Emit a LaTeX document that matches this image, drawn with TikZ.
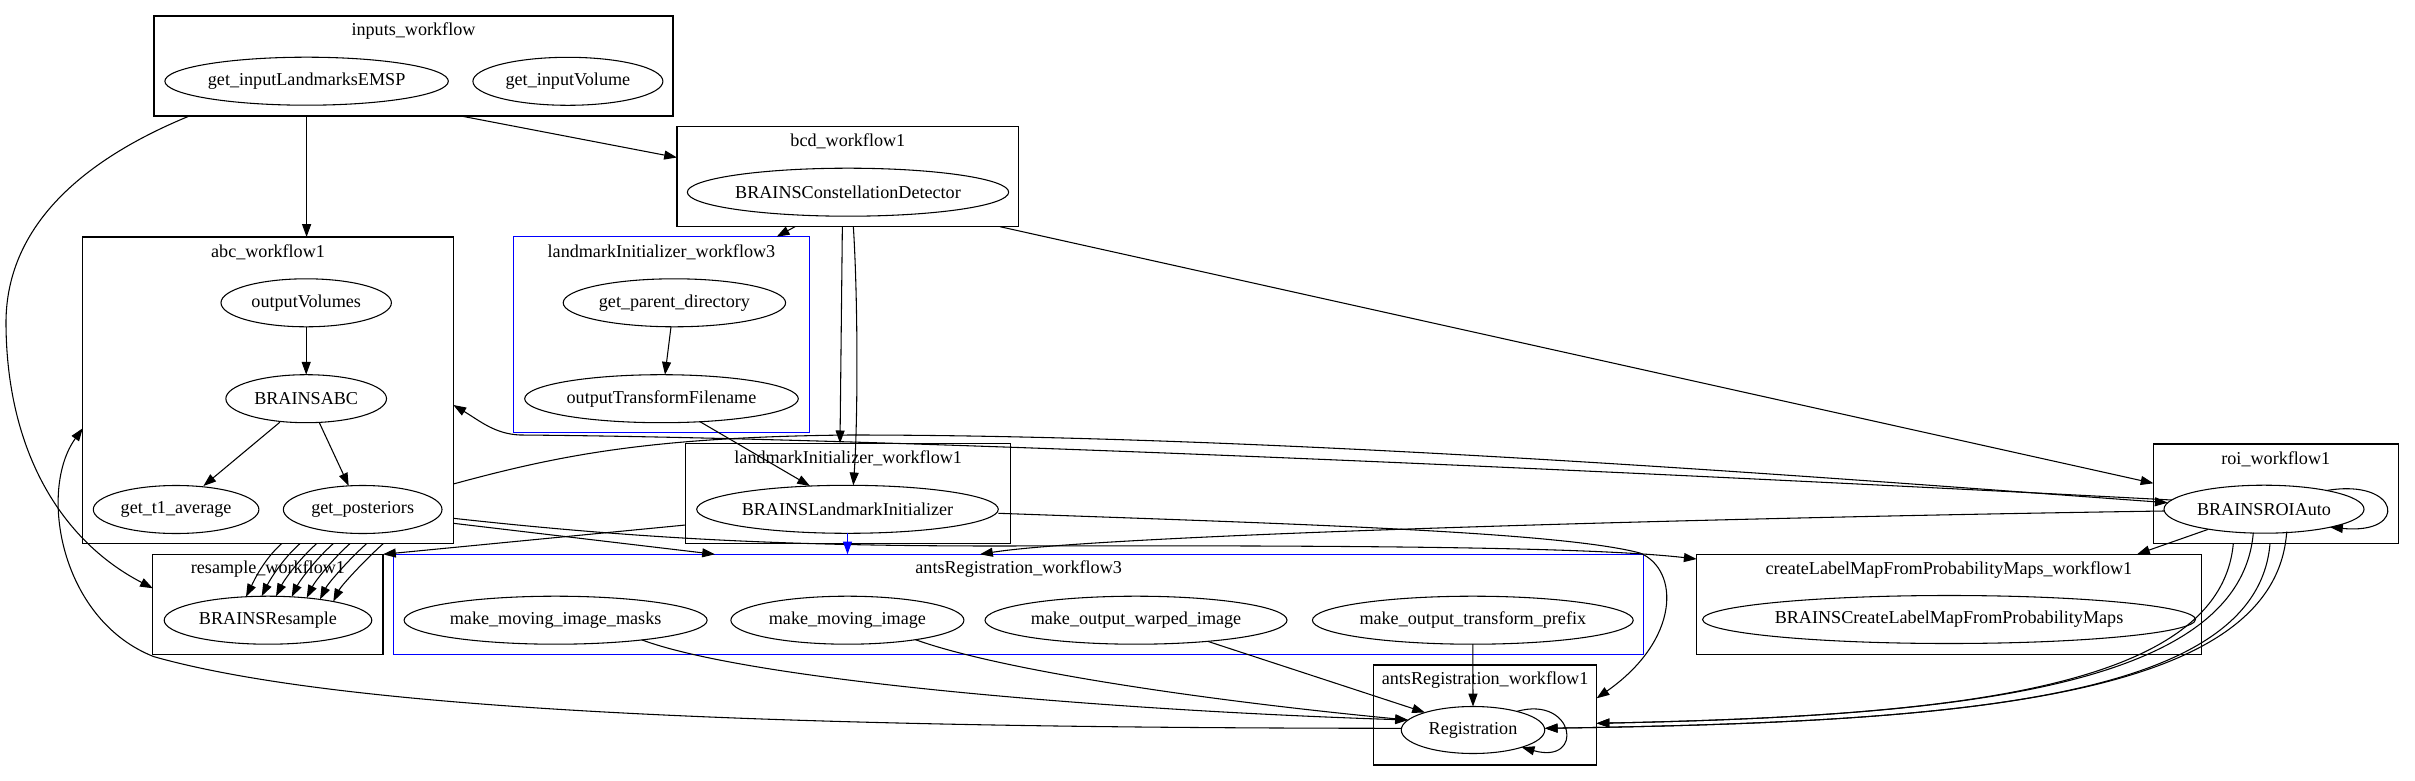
\documentclass[tikz,border=0pt]{standalone}
\usepackage{fontspec}
\setmainfont{Liberation Serif}
\usetikzlibrary{shapes.geometric,arrows.meta,calc}
\definecolor{gvblue}{RGB}{0,0,255}
\begin{document}
\begin{tikzpicture}[x=0.75pt,y=-0.75pt,
  every node/.style={font=\fontsize{13.6pt}{16pt}\selectfont},
  ell/.style={ellipse,draw,line width=0.8pt,inner sep=0pt,outer sep=0pt,minimum height=36pt},
  clus/.style={rectangle,draw,line width=0.8pt,inner sep=0pt,outer sep=0pt,minimum height=75pt},
  bclus/.style={clus,draw=gvblue},
  lab/.style={inner sep=0pt},
  conn/.style={draw,line width=0.8pt,-{Triangle[length=9.6pt,width=6.75pt]}},
]
\useasboundingbox[fill=white] (0,0) rectangle (2415,781);

% clusters
\node[clus,minimum width=389.25pt] (inputs) at (413.5,66) {};
\node[lab] (inputsL) at ($(inputs.north)+(0,15)$) {inputs\_workflow};
\node[clus,minimum width=256.3pt] (bcd) at (847.85,176.7) {};
\node[lab] (bcdL) at ($(bcd.north)+(0,15)$) {bcd\_workflow1};
\node[clus,minimum width=277.9pt,minimum height=229.9pt] (abc) at (268.05,390.25) {};
\node[lab] (abcL) at ($(abc.north)+(0,15.5)$) {abc\_workflow1};
\node[bclus,minimum width=221.9pt,minimum height=147pt] (lwthree) at (661.45,334.7) {};
\node[lab] (lwthreeL) at ($(lwthree.north)+(0,15.5)$) {landmarkInitializer\_workflow3};
\node[clus,minimum width=243.9pt,minimum height=75.4pt] (lwone) at (848.2,493.55) {};
\node[lab] (lwoneL) at ($(lwone.north)+(0,15)$) {landmarkInitializer\_workflow1};
\node[clus,minimum width=172.6pt,minimum height=75.3pt] (resample) at (267.95,604.5) {};
\node[lab] (resampleL) at ($(resample.north)+(0,15)$) {resample\_workflow1};
\node[bclus,minimum width=937.6pt,minimum height=75.15pt] (antsthree) at (1018.65,604.4) {};
\node[lab] (antsthreeL) at ($(antsthree.north)+(0,15)$) {antsRegistration\_workflow3};
\node[clus,minimum width=378.4pt] (clm) at (1948.95,604.3) {};
\node[lab] (clmL) at ($(clm.north)+(0,15.5)$) {createLabelMapFromProbabilityMaps\_workflow1};
\node[clus,minimum width=183.4pt,minimum height=74.6pt] (roi) at (2275.75,493.75) {};
\node[lab] (roiL) at ($(roi.north)+(0,15)$) {roi\_workflow1};
\node[clus,minimum width=167.3pt] (antsone) at (1485.05,715) {};
\node[lab] (antsoneL) at ($(antsone.north)+(0,15)$) {antsRegistration\_workflow1};

% nodes
\node[ell,minimum width=212.6pt] (getland) at (306.6,81.2) {get\_inputLandmarksEMSP};
\node[ell,minimum width=142.5pt] (getvol) at (567.9,81.3) {get\_inputVolume};
\node[ell,minimum width=241pt] (bcdnode) at (848,192.2) {BRAINSConstellationDetector};
\node[ell,minimum width=127.8pt] (outvol) at (306.2,302.8) {outputVolumes};
\node[ell,minimum width=120.5pt] (babc) at (306.2,398.7) {BRAINSABC};
\node[ell,minimum width=124.2pt] (tone) at (176.1,509.5) {get\_t1\_average};
\node[ell,minimum width=119pt] (post) at (362.7,509.5) {get\_posteriors};
\node[ell,minimum width=166.8pt] (parent) at (674.4,302.8) {get\_parent\_directory};
\node[ell,minimum width=205.2pt] (otf) at (661.5,398.7) {outputTransformFilename};
\node[ell,minimum width=226.2pt] (bli) at (847.5,509.3) {BRAINSLandmarkInitializer};
\node[ell,minimum width=155.7pt] (bres) at (268,620.2) {BRAINSResample};
\node[ell,minimum width=227.3pt] (masks) at (555.6,620.2) {make\_moving\_image\_masks};
\node[ell,minimum width=174.8pt] (moving) at (847.4,620.2) {make\_moving\_image};
\node[ell,minimum width=226.5pt] (warped) at (1136,620.2) {make\_output\_warped\_image};
\node[ell,minimum width=240.6pt] (prefix) at (1472.8,620.2) {make\_output\_transform\_prefix};
\node[ell,minimum width=361.2pt] (bclm) at (1949,619.5) {BRAINSCreateLabelMapFromProbabilityMaps};
\node[ell,minimum width=150pt] (broi) at (2264,509.2) {BRAINSROIAuto};
\node[ell,minimum width=107.6pt,minimum height=35.25pt] (reg) at (1473,730) {Registration};

% edges
\draw[conn] (getland.south |- inputs.south) -- (getland.south |- abc.north);
\draw[conn] ($(inputs.south)+(47.4,0)$) -- ($(bcd.west)+(0,-19.2)$);
\draw[conn] ($(inputs.south)+(-224.1,0)$) .. controls (70,165) and (5,235) .. (6,325)
  .. controls (7,450) and (60,540) .. ($(resample.west)+(0,-16.2)$);
\draw[conn] ($(bcd.south)+(-52.85,0)$) -- ($(lwthree.north)+(115.25,0)$);
\draw[conn] ($(bcd.south)+(-5.5,0)$) -- ($(lwone.north)+(-8.2,0)$);
\draw[conn] ($(bcd.south)+(5.5,0)$) .. controls (858,300) and (858,420) .. ($(bli.north)+(5.8,0)$);
\draw[conn] ($(bcd.south)+(152.15,0)$) -- ($(roi.west)+(0,-10.45)$);
\draw[conn] ($(parent.south)+(-3.4,0)$) -- ($(otf.north)+(3.5,0)$);
\draw[conn] ($(otf.south)+(38.5,-1)$) -- ($(bli.north)+(-37.5,0.7)$);
\draw[conn] (outvol) -- (babc);
\draw[conn] ($(babc.south)+(-26.3,-0.5)$) -- ($(tone.north)+(27.3,0.5)$);
\draw[conn] ($(babc.south)+(13,-0.3)$) -- ($(post.north)+(-14,0.3)$);

% roi <-> abc
\draw[conn] ($(broi.center)+(-92.4,-9.2)$) .. controls (1600,470) and (900,438) .. (520,435)
  .. controls (495,434) and (480,421) .. ($(abc.east)+(0,14.75)$);
\draw[conn] ($(abc.east)+(0,93.75)$) .. controls (560,455) and (650,437) .. (850,435)
  .. controls (1300,435) and (1880,482) .. ($(broi.center)+(-96.3,-6.5)$);
% abc -> createLabelMap, abc -> antsRegistration3
\draw[conn] ($(abc.east)+(0,128.05)$) .. controls (650,540) and (800,546) .. (1000,546)
  .. controls (1400,545) and (1600,548) .. ($(clm.west)+(0,-45.3)$);
\draw[conn] ($(abc.east)+(0,133.05)$) -- ($(antsthree.north)+(-303.65,0)$);
% landmark initializer
\draw[conn] ($(lwone.west)+(0,31.45)$) -- (resample.north east);
\draw[conn,draw=gvblue,fill=gvblue] (bli.south) -- (bli.south |- antsthree.north);
\draw[conn] ($(bli.east)+(0,4)$) .. controls (1300,524) and (1560,532) .. (1640,553)
  .. controls (1680,570) and (1680,640) .. ($(antsone.east)+(0,-16.7)$);
% roi outputs
\draw[conn] ($(broi.west)+(0,1.8)$) .. controls (1700,518) and (1100,535) .. ($(antsthree.north)+(-38.65,0)$);
\draw[conn] ($(broi.center)+(-55.7,20.1)$) -- ($(clm.north east)+(-64.2,0)$);
\draw[conn] ($(roi.south)+(-42.45,0)$) .. controls (2220,690) and (1950,716) .. ($(antsone.east)+(0,8.3)$);
\draw[conn] ($(broi.south)+(-10.7,-0.5)$) .. controls (2240,690) and (1950,716) .. ($(antsone.east)+(0,8.3)$);
\draw[conn] ($(roi.south)+(-5.75,0)$) .. controls (2257,700) and (1960,722) .. ($(reg.east)+(0,-1.7)$);
\draw[conn] ($(broi.south)+(22.7,-1.5)$) .. controls (2275,700) and (1960,722) .. ($(reg.east)+(0,-1.7)$);
\draw[conn] ($(broi.center)+(62.7,-18.7)$) .. controls (2400,478) and (2410,535) .. ($(broi.center)+(66,18)$);
% registration inputs
\draw[conn] ($(masks.center)+(86.3,19.7)$) .. controls (750,680) and (1100,710) .. ($(reg.center)+(-65,-10)$);
\draw[conn] ($(moving.center)+(68.1,19.5)$) .. controls (1000,670) and (1200,700) .. ($(reg.center)+(-65,-10)$);
\draw[conn] ($(warped.center)+(71.6,21.1)$) -- ($(reg.center)+(-48,-17.5)$);
\draw[conn] (prefix.south) -- (reg.north);
\draw[conn] ($(reg.center)+(43.7,-18.6)$) .. controls (1575,695) and (1585,765) .. ($(reg.center)+(48.7,17.3)$);
\draw[conn] ($(reg.center)+(-71.3,-1.7)$) .. controls (800,728) and (350,712) .. (154,656.7)
  .. controls (60,620) and (38,490) .. ($(abc.west)+(0,38)$);
% abc -> BRAINSResample
\foreach \tx/\hx/\hy in {13.7/-22/-23.5, 32/-6.3/-24, 48.7/8/-23.9, 65.3/23.7/-23.4, 82/38.7/-22.3, 98.7/52/-20.8, 115.3/65.3/-18.7}
  \draw[conn] ($(abc.south)+(\tx,0)$) .. controls +(-18,16) and +(8,-16) .. ($(bres.center)+(\hx,\hy)$);
\end{tikzpicture}
\end{document}
